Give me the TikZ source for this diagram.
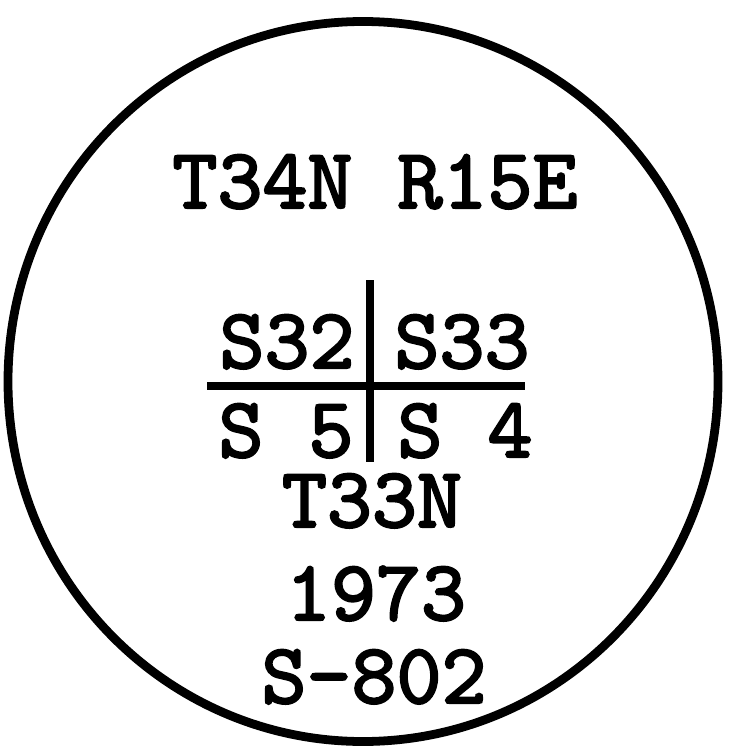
\documentclass[tikz,border=0pt]{standalone}
\usepackage{fontspec}
\newfontfamily\stampfont{lmmono10-regular.otf}[FakeBold=2.5]
\usetikzlibrary{positioning}
\begin{document}
\begin{tikzpicture}[x=0.02cm,y=-0.02cm,
  stamp/.style={inner sep=0pt,anchor=base,text height=0.62em,text depth=0pt,
    font=\fontsize{48.8}{56}\selectfont\stampfont},
  every path/.style={line width=4pt}]
\useasboundingbox (0,0) rectangle (728,750);
\coordinate (c0) at (363,381.5);
\draw[line width=5pt] (c0) ellipse [x radius=355,y radius=360];
\coordinate (h1) at (207,386);
\coordinate (h2) at (525,386);
\coordinate (v1) at (370,280);
\coordinate (v2) at (370,462);
\draw (h1)--(h2);
\draw (v1)--(v2);
\node[stamp] (tr) at (375,208) {T34N R15E};
\node[stamp] (s32) at (287,368) {S32};
\node[stamp] (s33) at (462,368) {S33};
\node[stamp] (s5) at (286,457) {S 5};
\node[stamp] (s4) at (465,457) {S 4};
\node[stamp] (tn) at (372,527) {T33N};
\node[stamp] (yr) at (376,620) {1973};
\node[stamp] (no) at (374,703) {S-802};
\end{tikzpicture}
\end{document}
